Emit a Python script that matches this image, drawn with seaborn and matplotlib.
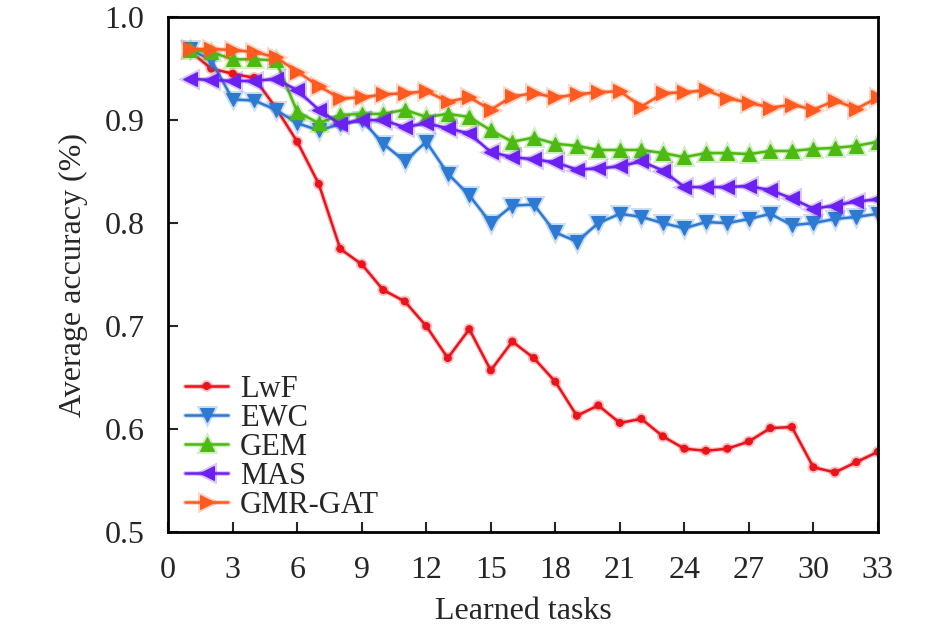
import numpy as np
import pandas as pd
import matplotlib
matplotlib.use("Agg")
import matplotlib.pyplot as plt
import matplotlib.patheffects as pe
import seaborn as sns

# datos
tasks = list(range(1, 34))
lwf = [0.967, 0.950, 0.945, 0.941, 0.912, 0.879, 0.838, 0.775, 0.760, 0.735, 0.724,
       0.700, 0.669, 0.697, 0.657, 0.685, 0.669, 0.646, 0.613, 0.623, 0.606, 0.610,
       0.593, 0.581, 0.579, 0.581, 0.588, 0.601, 0.602, 0.563, 0.558, 0.568, 0.578]
ewc = [0.969, 0.958, 0.920, 0.919, 0.910, 0.897, 0.890, 0.896, 0.900, 0.877, 0.860,
       0.879, 0.848, 0.827, 0.800, 0.817, 0.818, 0.791, 0.782, 0.800, 0.809, 0.806,
       0.800, 0.795, 0.801, 0.800, 0.804, 0.809, 0.798, 0.800, 0.804, 0.806, 0.809]
gem = [0.968, 0.966, 0.959, 0.959, 0.958, 0.908, 0.897, 0.905, 0.906, 0.906, 0.910,
       0.903, 0.906, 0.903, 0.890, 0.879, 0.883, 0.877, 0.875, 0.871, 0.871, 0.871,
       0.868, 0.864, 0.868, 0.868, 0.867, 0.870, 0.870, 0.872, 0.873, 0.875, 0.879]
mas = [0.940, 0.939, 0.938, 0.938, 0.940, 0.929, 0.910, 0.896, 0.900, 0.900, 0.893,
       0.897, 0.892, 0.887, 0.869, 0.864, 0.862, 0.859, 0.852, 0.853, 0.855, 0.860,
       0.851, 0.835, 0.835, 0.835, 0.836, 0.832, 0.824, 0.814, 0.817, 0.821, 0.823]
gmr = [0.969, 0.969, 0.968, 0.966, 0.961, 0.947, 0.933, 0.921, 0.922, 0.925, 0.926,
       0.928, 0.918, 0.922, 0.910, 0.923, 0.926, 0.922, 0.925, 0.927, 0.928, 0.913,
       0.926, 0.927, 0.929, 0.921, 0.917, 0.912, 0.915, 0.910, 0.919, 0.911, 0.922]

methods = ["LwF", "EWC", "GEM", "MAS", "GMR-GAT"]
series = [lwf, ewc, gem, mas, gmr]
colores = ["#E8131B", "#2D7AD2", "#4DBA12", "#6B21F2", "#FF5A1F"]
marcadores = ["o", "v", "^", "<", ">"]
tamanos = [5, 10, 10, 10, 10]

sns.set_style("ticks")
plt.rcParams["font.family"] = ["Liberation Serif", "DejaVu Serif"]

fig = plt.figure(figsize=(9.45, 6.32), dpi=100)
ax = fig.add_axes([0.178, 0.158, 0.751, 0.815])

for name, vals, c, m, s in zip(methods, series, colores, marcadores, tamanos):
    df = pd.DataFrame({"task": tasks, "acc": vals})
    sns.lineplot(data=df, x="task", y="acc", ax=ax, color=c, marker=m,
                 markersize=s, markeredgecolor=c, linewidth=1.8, label=name,
                 path_effects=[pe.Stroke(linewidth=3.5, foreground=c, alpha=0.25),
                               pe.Normal()])

ax.set_xlim(0, 33)
ax.set_ylim(0.5, 1.0)
ax.set_xticks(range(0, 34, 3))
ax.set_yticks(np.arange(0.5, 1.01, 0.1))
ax.set_yticklabels([f"{v:.1f}" for v in np.arange(0.5, 1.01, 0.1)])
ax.tick_params(direction="in", length=7, width=1.5, labelsize=23, pad=17,
               top=False, right=False)
for sp in ax.spines.values():
    sp.set_linewidth(2)
    sp.set_color("black")

ax.set_xlabel("Learned tasks", fontsize=23, labelpad=9)
ax.set_ylabel("Average accuracy (%)", fontsize=23, labelpad=12)

leg = ax.legend(loc="center left", bbox_to_anchor=(0.024, 0.165), frameon=False,
                fontsize=22, handlelength=1.4, handletextpad=0.4,
                labelspacing=0.0, borderpad=0, borderaxespad=0)

fig.savefig("out.png", dpi=100)
